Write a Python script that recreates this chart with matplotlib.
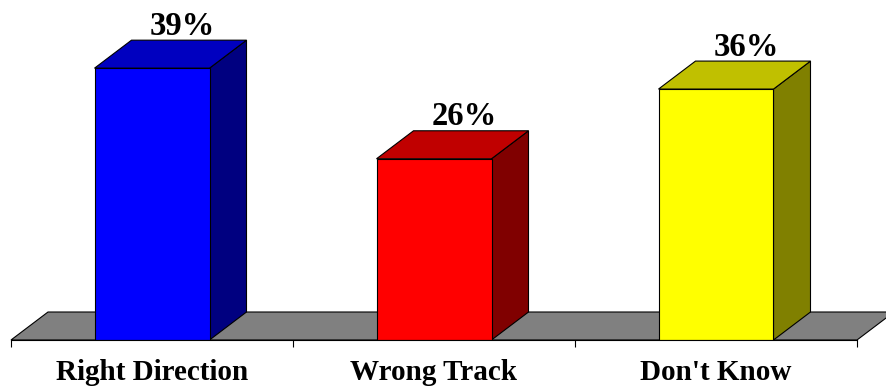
import matplotlib.pyplot as plt
from matplotlib.patches import Polygon

# survey answers and their shares (percent)
categories = ["Right Direction", "Wrong Track", "Don't Know"]
values = [39, 26, 36]
front_colors = ["#0000FF", "#FF0000", "#FFFF00"]
top_colors = ["#0000C0", "#C00000", "#C0C000"]
side_colors = ["#000080", "#800000", "#808000"]

plt.rcParams['font.family'] = ['Liberation Serif', 'DejaVu Serif']

fig = plt.figure(figsize=(8.86, 3.86), dpi=100)
# axes spans the floor's front edge; y = 0 sits on the front edge of the floor
ax = fig.add_axes([11 / 886, 46 / 386, 846 / 886, 340 / 386])
ax.set_xlim(-0.5, len(categories) - 0.5)
px_per_pct = 6.97
ax.set_ylim(0, 340 / px_per_pct)

# depth of the 3d effect, in data units
dx = 37 / 282
dy = 28 / px_per_pct
w = 115 / 282
lw = 0.8

# gray floor
n = len(categories)
floor = Polygon([(-0.5, 0), (n - 0.5, 0), (n - 0.5 + dx, dy), (-0.5 + dx, dy)],
                closed=True, facecolor="#808080", edgecolor="black", lw=lw,
                clip_on=False, zorder=1)
ax.add_patch(floor)

for i, v in enumerate(values):
    x0, x1 = i - w / 2, i + w / 2
    side = Polygon([(x1, 0), (x1 + dx, dy), (x1 + dx, v + dy), (x1, v)],
                   facecolor=side_colors[i], edgecolor="black", lw=lw,
                   joinstyle="miter", zorder=2)
    top = Polygon([(x0, v), (x1, v), (x1 + dx, v + dy), (x0 + dx, v + dy)],
                  facecolor=top_colors[i], edgecolor="black", lw=lw,
                  joinstyle="miter", zorder=2)
    front = Polygon([(x0, 0), (x1, 0), (x1, v), (x0, v)],
                    facecolor=front_colors[i], edgecolor="black", lw=lw,
                    joinstyle="miter", zorder=3)
    for p in (side, top, front):
        ax.add_patch(p)
    ax.text(i + 0.106, v + dy + 0.8, f"{v}%", ha="center", va="baseline",
            fontsize=23.5, fontweight="bold", zorder=4)

# tick marks at category boundaries, labels in the middle
ax.set_xticks([k - 0.5 for k in range(n + 1)])
ax.set_xticklabels([])
ax.set_xticks(range(n), categories, minor=True)
ax.tick_params(axis="x", which="major", direction="out", length=5, width=lw)
ax.tick_params(axis="x", which="minor", length=0, pad=14, labelsize=21)
for lbl in ax.get_xticklabels(minor=True):
    lbl.set_fontweight("bold")

ax.set_yticks([])
for s in ("left", "right", "top"):
    ax.spines[s].set_visible(False)
ax.spines["bottom"].set_linewidth(lw)
ax.spines["bottom"].set_zorder(5)
ax.patch.set_alpha(0)

fig.savefig("out.png", dpi=100)
